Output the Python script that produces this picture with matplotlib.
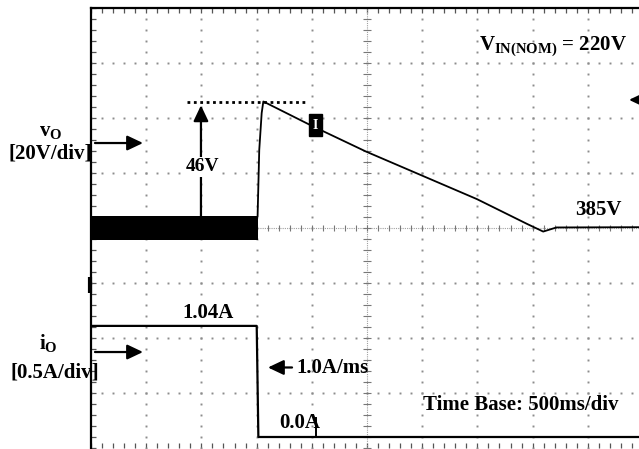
import numpy as np
from matplotlib import pyplot as plt

plt.rcParams['font.family'] = ['Liberation Serif', 'DejaVu Serif']
plt.rcParams['font.weight'] = 'bold'
plt.rcParams['mathtext.fontset'] = 'custom'
plt.rcParams['mathtext.rm'] = 'Liberation Serif:bold'
plt.rcParams['mathtext.bf'] = 'Liberation Serif:bold'
plt.rcParams['mathtext.it'] = 'Liberation Serif:bold'

# scope settings
MS_PER_DIV = 500.0
V_PER_DIV = 20.0      # ch1, v_O
V_CENTER = 385.0      # v_O level on the centre line
A_PER_DIV = 0.5       # ch2, i_O
A_ZERO_DIV = -3.8     # ch2 ground position (divisions)

# ch1: output voltage, ripple band before the load step
ripple_time = [0, 1509]
ripple_top = [389.4, 389.4]
ripple_bottom = [380.6, 380.6]

# ch1: overshoot after the step and slow recovery
vout_time = [1509, 1524, 1546, 1561, 1993, 2491, 3496, 3949, 4096, 4216, 5000]
vout_volts = [389.4, 413.4, 426.8, 431.0, 422.3, 412.8, 395.5, 386.5, 383.7, 385.2, 385.3]

# ch2: output current step 1.04A -> 0A
iout_time = [0, 1501, 1516, 5000]
iout_amps = [1.01, 1.01, 0.0, 0.0]

GRID = '#8c8c8c'


def v_div(v):
    return (np.asarray(v, dtype=float) - V_CENTER) / V_PER_DIV


def i_div(a):
    return np.asarray(a, dtype=float) / A_PER_DIV + A_ZERO_DIV


def arrow(ax, tip, tail, scale=10, lw=1.6):
    ax.annotate('', xy=tip, xytext=tail, annotation_clip=False,
                arrowprops=dict(arrowstyle='-|>,head_length=0.95,head_width=0.45',
                                mutation_scale=scale, lw=lw, color='k',
                                shrinkA=0, shrinkB=0))


fig = plt.figure(figsize=(6.39, 4.49), dpi=100)
ax = fig.add_axes([91 / 639, 1 / 449, 552 / 639, 440 / 449])
ax.set_xlim(0, 10 * MS_PER_DIV)
ax.set_ylim(-4, 4)

# frame and small ticks
minor_x = np.arange(0, 10 * MS_PER_DIV + 1, MS_PER_DIV / 5)
minor_y = np.arange(-4, 4.001, 0.2)
ax.set_xticks(minor_x)
ax.set_yticks(minor_y)
ax.tick_params(direction='in', length=3.5, width=0.9, color='#555555',
               top=True, bottom=True, left=True, right=False,
               labelbottom=False, labelleft=False)
for side in ['right', 'bottom']:
    ax.spines[side].set_visible(False)
for side in ['top', 'left']:
    ax.spines[side].set_linewidth(1.6)

# dotted graticule
for gx in np.arange(MS_PER_DIV, 10 * MS_PER_DIV, MS_PER_DIV):
    if gx == 5 * MS_PER_DIV:
        continue
    ax.plot(np.full(len(minor_y), gx), minor_y, ls='none', marker='s', ms=1.4, mew=0, color=GRID)
for gy in range(-3, 4):
    if gy == 0:
        continue
    ax.plot(minor_x, np.full(len(minor_x), gy), ls='none', marker='s', ms=1.4, mew=0, color=GRID)

# centre lines with tick marks
ax.axhline(0, color='#a0a0a0', lw=0.8, ls=(0, (1, 1)))
ax.axvline(5 * MS_PER_DIV, color='#a0a0a0', lw=0.8, ls=(0, (1, 1)))
ax.plot(minor_x, np.zeros(len(minor_x)), ls='none', marker='|', ms=5, mew=0.8, color='#777777')
ax.plot(np.full(len(minor_y), 5 * MS_PER_DIV), minor_y, ls='none', marker='_', ms=6, mew=0.8, color='#777777')

# traces
ax.fill_between(ripple_time, v_div(ripple_bottom), v_div(ripple_top), color='k', lw=0, zorder=3)
ax.plot(vout_time, v_div(vout_volts), color='k', lw=1.3, zorder=3)
ax.plot(iout_time, i_div(iout_amps), color='k', lw=1.6, zorder=3)

# peak marker line and 46V arrow
peak = max(vout_volts)
ax.plot([870, 1947], [v_div(peak)] * 2, color='k', lw=2, ls=(0, (1, 1.3)), zorder=3)
arrow(ax, (996, v_div(peak) - 0.07), (996, v_div(ripple_top[0])))
ax.text(1014, 1.11, '46V', fontsize=14, ha='center', va='center',
        bbox=dict(boxstyle='square,pad=0.1', fc='white', ec='none'), zorder=4)

# trigger marker
ax.text(2033, 1.87, 'I', fontsize=10, color='white', ha='center', va='center',
        bbox=dict(boxstyle='square,pad=0.3', fc='k', ec='k'), zorder=4)

# channel markers
ax.plot([-9, -9], [-0.89, -1.18], color='k', lw=3, clip_on=False, solid_capstyle='butt')
arrow(ax, (4873, 2.33), (4990, 2.33), scale=7)

# channel labels
ax.text(-362, 1.76, r'$\mathrm{v_O}$', fontsize=15, ha='center', va='center')
ax.text(-367, 1.36, '[20V/div]', fontsize=15, ha='center', va='center')
arrow(ax, (471, 1.545), (36, 1.545))

ax.text(-390, -2.09, r'$\mathrm{i_O}$', fontsize=15, ha='center', va='center')
ax.text(-326, -2.62, '[0.5A/div]', fontsize=15, ha='center', va='center')
arrow(ax, (471, -2.255), (36, -2.255))

# annotations
ax.text(3515, 3.24, r'$\mathrm{V_{IN(NOM)}}$ = 220V', fontsize=15, ha='left', va='baseline')
ax.text(4592, 0.33, '385V', fontsize=15, ha='center', va='center')
ax.text(1060, -1.545, '1.04A', fontsize=15, ha='center', va='center')
arrow(ax, (1603, -2.536), (1821, -2.536))
ax.text(2192, -2.545, '1.0A/ms', fontsize=15, ha='center', va='center')
ax.text(1893, -3.545, '0.0A', fontsize=15, ha='center', va='center')
ax.plot([2038, 2038], [i_div(0.0), -3.455], color='k', lw=1.4)
ax.text(3895, -3.22, 'Time Base: 500ms/div', fontsize=15, ha='center', va='center')

fig.savefig('out.png', dpi=100)
